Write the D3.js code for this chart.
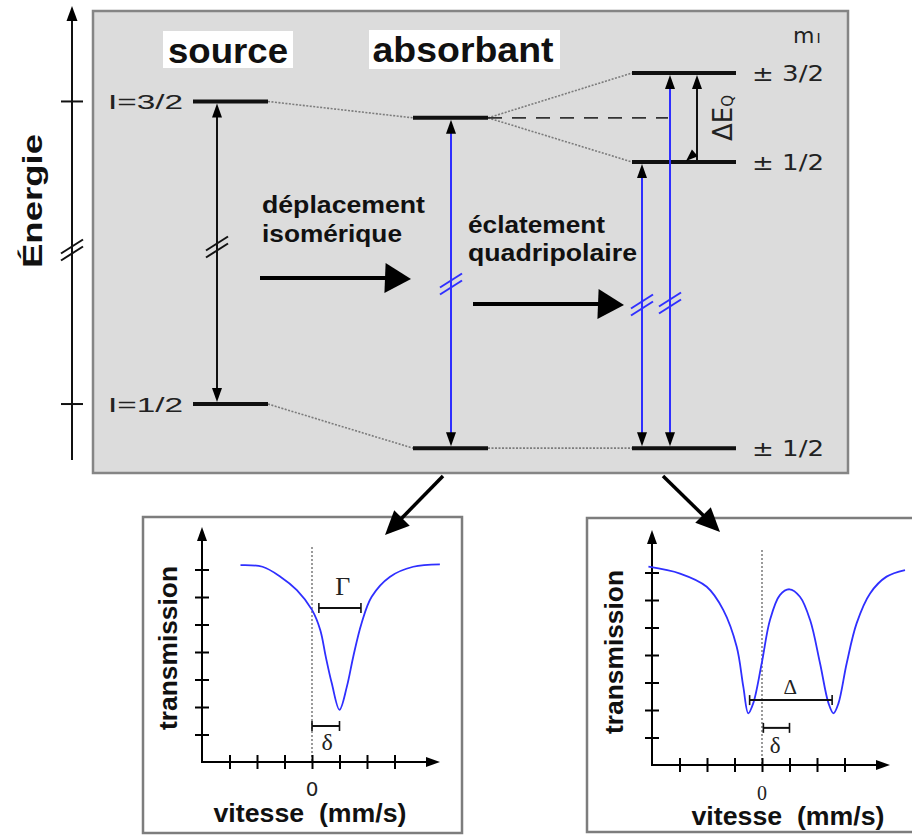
<!DOCTYPE html>
<html>
<head>
<meta charset="utf-8">
<script src="https://cdn.jsdelivr.net/npm/d3@7"></script>
<style>
  html, body { margin: 0; padding: 0; background: #fff; }
  svg { display: block; }
</style>
</head>
<body>
<svg id="fig" width="912" height="835"></svg>
<script>
// ---- Energy levels (arbitrary energy units) ----
const sourceLevels   = [78.8, 12.3];            // I=3/2, I=1/2
const sourceLabels   = ["I=3/2", "I=1/2"];
const absorberLevels = [75.2, 2.6];             // shifted levels
const splitLevels    = [85.05, 65.5, 2.6];      // ±3/2, ±1/2 (excited), ±1/2 (ground)
const splitLabels    = ["± 3/2", "± 1/2", "± 1/2"];

// ---- Spectra: velocity (mm/s, tick units) vs transmission (tick units) ----
const singletV = [-2.6, -1.8, -1.15, -0.55, 0.0, 0.3, 0.5, 0.72, 1.0, 1.27, 1.5, 1.8, 2.17, 2.84, 3.68, 4.65];
const singletT = [7.16, 7.1, 6.74, 6.25, 5.53, 4.8, 3.83, 2.86, 1.9, 2.75, 3.83, 5.04, 6.01, 6.74, 7.1, 7.19];
const doubletV = [-4.13, -2.98, -2.01, -1.41, -0.92, -0.68, -0.5, -0.32, -0.01, 0.29, 0.65, 1.0, 1.38, 1.75, 2.11, 2.42, 2.6, 2.78, 3.08, 3.44, 3.93, 4.53, 5.2];
const doubletT = [7.21, 6.96, 6.48, 5.64, 4.3, 2.85, 1.88, 2.24, 3.7, 5.27, 6.18, 6.39, 6.12, 5.27, 3.7, 2.24, 1.88, 2.24, 3.7, 5.15, 6.24, 6.85, 7.09];
const velocityTicks     = [-3, -2, -1, 0, 1, 2, 3];
const transmissionTicks = [1, 2, 3, 4, 5, 6, 7];
const velocityLabels    = ["0"];

// Marked intervals on the spectra: [from, to, level]
const singletGamma = [0.25, 1.78, 5.6];
const singletDelta = [0.0, 1.0, 1.31];
const doubletSplit = [-0.45, 2.55, 2.36];
const doubletDelta = [0.05, 1.0, 1.35];

const svg = d3.select("#fig");
const BLUE = "#2f2fff";
const BOLD = "'Liberation Sans', Arial, sans-serif";
const REG = "'DejaVu Sans', sans-serif";
const SERIF = "'Liberation Serif', 'DejaVu Serif', serif";

// filled triangular arrowhead with its tip at (x,y) pointing along (dx,dy)
function head(g, x, y, dx, dy, len, hw, fill) {
  const n = Math.hypot(dx, dy); dx /= n; dy /= n;
  const bx = x - dx * len, by = y - dy * len;
  const px = -dy * hw, py = dx * hw;
  g.append("path")
    .attr("d", `M${x},${y}L${bx + px},${by + py}L${bx - px},${by - py}Z`)
    .attr("fill", fill || "#000");
}
// "//" break mark across a vertical line
function breakMark(g, x, y, color) {
  [-3.5, 3.5].forEach(o => {
    g.append("line")
      .attr("x1", x - 11).attr("y1", y + 7 + o)
      .attr("x2", x + 11).attr("y2", y - 7 + o)
      .attr("stroke", color).attr("stroke-width", 2);
  });
}

// ================= Energy diagram =================
const yE = d3.scaleLinear().domain([0, 100]).range([460, 5]);
const diag = svg.append("g");

diag.append("rect").attr("x", 93).attr("y", 11).attr("width", 755).attr("height", 462)
  .attr("fill", "#dcdcdc").attr("stroke", "#858585").attr("stroke-width", 2.5);

// energy axis
diag.append("line").attr("x1", 72).attr("x2", 72).attr("y1", 460).attr("y2", 18)
  .attr("stroke", "#111").attr("stroke-width", 2);
head(diag, 72, 6, 0, -1, 15, 5.5);
sourceLevels.forEach(e => {
  diag.append("line").attr("x1", 61).attr("x2", 83).attr("y1", yE(e)).attr("y2", yE(e))
    .attr("stroke", "#111").attr("stroke-width", 2);
});
breakMark(diag, 72, 250, "#111");

diag.append("text").attr("transform", "translate(42,201) rotate(-90)")
  .attr("text-anchor", "middle").attr("font-family", BOLD).attr("font-weight", "bold")
  .attr("font-size", 28).attr("textLength", 134).attr("lengthAdjust", "spacingAndGlyphs")
  .attr("fill", "#111").text("Énergie");

// column titles
diag.append("rect").attr("x", 163).attr("y", 31).attr("width", 130).attr("height", 37).attr("fill", "#fff");
diag.append("text").attr("x", 228).attr("y", 63).attr("text-anchor", "middle")
  .attr("font-family", BOLD).attr("font-weight", "bold").attr("font-size", 35)
  .attr("textLength", 120).attr("lengthAdjust", "spacingAndGlyphs").attr("fill", "#111").text("source");
diag.append("rect").attr("x", 369).attr("y", 30).attr("width", 191).attr("height", 39).attr("fill", "#fff");
diag.append("text").attr("x", 463).attr("y", 62).attr("text-anchor", "middle")
  .attr("font-family", BOLD).attr("font-weight", "bold").attr("font-size", 35)
  .attr("textLength", 181).attr("lengthAdjust", "spacingAndGlyphs").attr("fill", "#111").text("absorbant");

const mi = diag.append("text").attr("x", 793).attr("y", 43).attr("font-family", REG).attr("fill", "#222");
mi.append("tspan").attr("font-size", 22).text("m");
mi.append("tspan").attr("font-size", 14).attr("dx", 2).text("I");

// connector lines between columns
const dotted = (x1, e1, x2, e2) => diag.append("line")
  .attr("x1", x1).attr("y1", yE(e1)).attr("x2", x2).attr("y2", yE(e2))
  .attr("stroke", "#7c7c7c").attr("stroke-width", 1.6).attr("stroke-dasharray", "2,1.5");
dotted(268, sourceLevels[0], 413, absorberLevels[0]);
dotted(268, sourceLevels[1], 413, absorberLevels[1]);
dotted(488, absorberLevels[0], 632, splitLevels[0]);
dotted(488, absorberLevels[0], 632, splitLevels[1]);
dotted(488, absorberLevels[1], 632, splitLevels[2]);
diag.append("line").attr("x1", 488).attr("x2", 668)
  .attr("y1", yE(absorberLevels[0])).attr("y2", yE(absorberLevels[0]))
  .attr("stroke", "#333").attr("stroke-width", 1.8).attr("stroke-dasharray", "14,10");

// level bars
const bar = (x1, x2, e) => diag.append("line").attr("x1", x1).attr("x2", x2)
  .attr("y1", yE(e)).attr("y2", yE(e)).attr("stroke", "#111").attr("stroke-width", 4);
sourceLevels.forEach(e => bar(193, 268, e));
absorberLevels.forEach(e => bar(413, 488, e));
splitLevels.forEach(e => bar(632, 736, e));

sourceLabels.forEach((t, i) => {
  diag.append("text").attr("x", 183).attr("y", yE(sourceLevels[i]) + 7.5).attr("text-anchor", "end")
    .attr("font-family", BOLD).attr("font-size", 20).attr("textLength", 75)
    .attr("lengthAdjust", "spacingAndGlyphs").attr("fill", "#222").text(t);
});
splitLabels.forEach((t, i) => {
  diag.append("text").attr("x", 752).attr("y", yE(splitLevels[i]) + 8).attr("font-family", REG)
    .attr("font-size", 22).attr("textLength", 72).attr("lengthAdjust", "spacingAndGlyphs")
    .attr("fill", "#222").text(t);
});

// transitions
function transition(x, eTop, eBot, color, breakY) {
  const y1 = yE(eTop) + 2, y2 = yE(eBot) - 2;
  diag.append("line").attr("x1", x).attr("x2", x).attr("y1", y1 + 8).attr("y2", y2 - 8)
    .attr("stroke", color).attr("stroke-width", 2);
  head(diag, x, y1, 0, -1, 14, 5);
  head(diag, x, y2, 0, 1, 14, 5);
  breakMark(diag, x, breakY, color);
}
transition(217, sourceLevels[0], sourceLevels[1], "#111", 247);
transition(451, absorberLevels[0], absorberLevels[1], BLUE, 284);
transition(642, splitLevels[1], splitLevels[2], BLUE, 305);
transition(670, splitLevels[0], splitLevels[2], BLUE, 303);

// quadrupole splitting arrow
diag.append("line").attr("x1", 697).attr("x2", 697).attr("y1", yE(splitLevels[0]) + 12).attr("y2", yE(splitLevels[1]) - 2)
  .attr("stroke", "#111").attr("stroke-width", 2);
head(diag, 697, yE(splitLevels[0]) + 2, 0, -1, 14, 5);
head(diag, 686, yE(splitLevels[1]) - 1, -1, 0.9, 12, 4.5);
const dq = diag.append("text").attr("transform", "translate(732,118) rotate(-90)")
  .attr("text-anchor", "middle").attr("font-family", REG).attr("fill", "#222");
dq.append("tspan").attr("font-size", 26).text("ΔE");
dq.append("tspan").attr("font-size", 15).attr("dy", 1).text("Q");

// process labels and arrows
const boldText = (x, y, t, len) => diag.append("text").attr("x", x).attr("y", y)
  .attr("font-family", BOLD).attr("font-weight", "bold").attr("font-size", 23)
  .attr("textLength", len).attr("lengthAdjust", "spacingAndGlyphs").attr("fill", "#111").text(t);
boldText(262, 213, "déplacement", 163);
boldText(262, 242, "isomérique", 140);
boldText(468, 233, "éclatement", 137);
boldText(468, 261, "quadripolaire", 169);

diag.append("line").attr("x1", 260).attr("y1", 278).attr("x2", 392).attr("y2", 278)
  .attr("stroke", "#000").attr("stroke-width", 4);
head(diag, 411, 279, 1, 0.04, 26, 15);
diag.append("line").attr("x1", 473).attr("y1", 304).attr("x2", 605).attr("y2", 304)
  .attr("stroke", "#000").attr("stroke-width", 4);
head(diag, 624, 305, 1, 0.04, 26, 15);

// ================= Spectra =================
function spectrum(opts) {
  const g = svg.append("g");
  g.append("rect").attr("x", opts.box[0]).attr("y", opts.box[1])
    .attr("width", opts.box[2]).attr("height", opts.box[3])
    .attr("fill", "#fff").attr("stroke", "#7d7d7d").attr("stroke-width", 2.5);

  const x = d3.scaleLinear().domain([0, 1]).range([opts.x0, opts.x0 + 27.5]);
  const y = d3.scaleLinear().domain([0, 1]).range([opts.y0, opts.y0 - 27.5]);
  const ox = x(-4), oy = y(0);

  // zero-velocity reference
  g.append("line").attr("x1", x(0)).attr("x2", x(0)).attr("y1", opts.zeroTop).attr("y2", oy)
    .attr("stroke", "#666").attr("stroke-width", 1.3).attr("stroke-dasharray", "2,2");

  // axes with crossing ticks
  const ax = g.append("g").attr("transform", `translate(0,${oy})`)
    .call(d3.axisBottom(x).tickValues(velocityTicks).tickFormat("").tickSizeOuter(0));
  ax.select(".domain").remove();
  ax.selectAll(".tick line").attr("y1", -7).attr("y2", 7).attr("stroke", "#000").attr("stroke-width", 2);
  const ay = g.append("g").attr("transform", `translate(${ox},0)`)
    .call(d3.axisLeft(y).tickValues(transmissionTicks).tickFormat("").tickSizeOuter(0));
  ay.select(".domain").remove();
  ay.selectAll(".tick line").attr("x1", -7).attr("x2", 7).attr("stroke", "#000").attr("stroke-width", 2);

  g.append("line").attr("x1", ox).attr("x2", opts.xEnd - 10).attr("y1", oy).attr("y2", oy)
    .attr("stroke", "#000").attr("stroke-width", 2);
  head(g, opts.xEnd, oy, 1, 0, 14, 5);
  g.append("line").attr("x1", ox).attr("x2", ox).attr("y1", oy + 1).attr("y2", opts.yEnd + 10)
    .attr("stroke", "#000").attr("stroke-width", 2);
  head(g, ox, opts.yEnd, 0, -1, 14, 5);

  // absorption line
  const pts = opts.v.map((v, i) => [v, opts.t[i]]);
  g.append("path").datum(pts)
    .attr("d", d3.line().x(d => x(d[0])).y(d => y(d[1])).curve(d3.curveCatmullRom.alpha(0.5)))
    .attr("fill", "none").attr("stroke", BLUE).attr("stroke-width", 1.8);

  // marked intervals
  opts.marks.forEach(m => {
    const [a, b, lv] = m.span;
    g.append("line").attr("x1", x(a)).attr("x2", x(b)).attr("y1", y(lv)).attr("y2", y(lv))
      .attr("stroke", "#111").attr("stroke-width", 2);
    [a, b].forEach(v => g.append("line").attr("x1", x(v)).attr("x2", x(v))
      .attr("y1", y(lv) - 5).attr("y2", y(lv) + 5).attr("stroke", "#111").attr("stroke-width", 1.6));
    g.append("text").attr("x", x(m.lx)).attr("y", y(m.ly)).attr("text-anchor", "middle")
      .attr("font-family", SERIF).attr("font-size", m.size).attr("fill", "#222").text(m.label);
  });

  // labels
  velocityLabels.forEach(t => {
    g.append("text").attr("x", x(+t)).attr("y", oy + opts.zeroDy).attr("text-anchor", "middle")
      .attr("font-family", opts.zeroFont).attr("font-size", 20).attr("fill", "#222").text(t);
  });
  g.append("text").attr("x", opts.titleX).attr("y", opts.titleY).attr("text-anchor", "middle")
    .attr("font-family", BOLD).attr("font-weight", "bold").attr("font-size", 25)
    .attr("textLength", 193).attr("lengthAdjust", "spacingAndGlyphs").attr("fill", "#111")
    .text("vitesse\u00a0\u00a0(mm/s)");
  g.append("text").attr("transform", `translate(${opts.ylabX},${opts.ylabY}) rotate(-90)`)
    .attr("text-anchor", "middle").attr("font-family", BOLD).attr("font-weight", "bold")
    .attr("font-size", 26).attr("textLength", 164).attr("lengthAdjust", "spacingAndGlyphs")
    .attr("fill", "#111").text("transmission");
}

spectrum({
  box: [143, 517, 319, 316], x0: 312, y0: 762, xEnd: 440, yEnd: 527, zeroTop: 547,
  v: singletV, t: singletT,
  marks: [
    { span: singletGamma, label: "Γ", lx: 1.12, ly: 6.07, size: 26 },
    { span: singletDelta, label: "δ", lx: 0.55, ly: 0.45, size: 24 }
  ],
  zeroDy: 34, zeroFont: REG, titleX: 310, titleY: 822, ylabX: 177, ylabY: 648
});

spectrum({
  box: [587, 518, 345, 314], x0: 762, y0: 765, xEnd: 890, yEnd: 530, zeroTop: 550,
  v: doubletV, t: doubletT,
  marks: [
    { span: doubletSplit, label: "Δ", lx: 1.03, ly: 2.6, size: 21 },
    { span: doubletDelta, label: "δ", lx: 0.48, ly: 0.45, size: 23 }
  ],
  zeroDy: 35, zeroFont: SERIF, titleX: 788, titleY: 825, ylabX: 623, ylabY: 652
});

// arrows from the absorber levels down to their spectra (drawn over the frames)
svg.append("line").attr("x1", 443).attr("y1", 476).attr("x2", 398).attr("y2", 522)
  .attr("stroke", "#000").attr("stroke-width", 3.5);
head(svg, 385, 535, -1, 1, 24, 11);
svg.append("line").attr("x1", 663).attr("y1", 476).attr("x2", 707).attr("y2", 519)
  .attr("stroke", "#000").attr("stroke-width", 3.5);
head(svg, 720, 532, 1, 1, 24, 11);
</script>
</body>
</html>
